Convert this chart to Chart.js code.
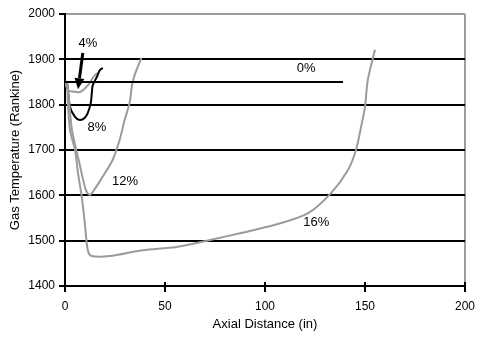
<!DOCTYPE html>
<html>
<head>
<meta charset="utf-8">
<script src="https://cdn.jsdelivr.net/npm/chart.js@4"></script>
<style>
html,body{margin:0;padding:0;background:#fff;}
#wrap{width:482px;height:342px;}
</style>
</head>
<body>
<div id="wrap"><canvas id="c" width="482" height="342"></canvas></div>
<script>
// Data (axial distance in inches, gas temperature in Rankine)
const xTicks = [0, 50, 100, 150, 200];
const yTicks = [1400, 1500, 1600, 1700, 1800, 1900, 2000];

const s0x = [0, 139];
const s0y = [1850, 1850];

const s4x = [0, 1.5, 4, 7.5, 10, 12.4, 14, 16];
const s4y = [1850, 1832, 1829, 1828, 1836, 1848, 1860, 1870];

const s8x = [0, 1, 2.5, 5, 7.4, 9.9, 11.4, 12.9, 13.4, 13.9, 15.9, 17.4, 18.9];
const s8y = [1852, 1848, 1795, 1773, 1766, 1771, 1782, 1804, 1826, 1843, 1861, 1876, 1881];

const s12x = [0, 1, 2, 3.5, 7.4, 10.4, 12.4, 15.5, 18.4, 23.8, 27.3, 29.8, 32.3, 33.7, 35.7, 38.2];
const s12y = [1852, 1848, 1810, 1744, 1667, 1612, 1601, 1618, 1638, 1678, 1722, 1766, 1804, 1848, 1876, 1903];

const s16x = [0, 1, 1.5, 2.5, 5, 6.5, 8.4, 9.9, 11.4, 13.4, 22.3, 38.7, 55.6, 72, 88, 105, 121.6, 133, 141.5, 145.5, 148, 150, 151.4, 155];
const s16y = [1845, 1840, 1799, 1744, 1700, 1649, 1596, 1539, 1479, 1466, 1466, 1479, 1486, 1501, 1517, 1535, 1561, 1605, 1656, 1700, 1750, 1795, 1854, 1921];

const labelTexts = ['0%', '4%', '8%', '12%', '16%'];
const labelX = [120.6, 11.4, 16, 30, 125.6];
const labelY = [1881, 1934, 1749, 1630, 1541];

const arrowFrom = [8.9, 1914];
const arrowTo = [6.5, 1834];

function pts(xs, ys) { return xs.map((x, i) => ({x: x, y: ys[i]})); }

const GRAY = '#9b9b9b';
const FONT = '"Liberation Sans", Arial, sans-serif';

const annotations = {
  id: 'annotations',
  afterDatasetsDraw(chart) {
    const {ctx, scales: {x, y}, chartArea} = chart;
    ctx.save();
    ctx.strokeStyle = '#000';
    ctx.lineWidth = 2;
    xTicks.forEach(v => {
      const px = x.getPixelForValue(v);
      ctx.beginPath();
      ctx.moveTo(px, chartArea.bottom);
      ctx.lineTo(px, chartArea.bottom - 4);
      ctx.stroke();
    });
    const x1 = x.getPixelForValue(arrowFrom[0]), y1 = y.getPixelForValue(arrowFrom[1]);
    const x2 = x.getPixelForValue(arrowTo[0]), y2 = y.getPixelForValue(arrowTo[1]);
    const ang = Math.atan2(y2 - y1, x2 - x1);
    const hl = 11, hw = 5;
    const bx = x2 - hl * Math.cos(ang), by = y2 - hl * Math.sin(ang);
    ctx.lineWidth = 3;
    ctx.beginPath();
    ctx.moveTo(x1, y1);
    ctx.lineTo(bx, by);
    ctx.stroke();
    ctx.fillStyle = '#000';
    ctx.beginPath();
    ctx.moveTo(x2, y2);
    ctx.lineTo(bx + hw * Math.sin(ang), by - hw * Math.cos(ang));
    ctx.lineTo(bx - hw * Math.sin(ang), by + hw * Math.cos(ang));
    ctx.closePath();
    ctx.fill();
    ctx.font = '13px ' + FONT;
    ctx.textAlign = 'center';
    ctx.textBaseline = 'middle';
    ctx.fillStyle = '#000';
    labelTexts.forEach((t, i) => {
      ctx.fillText(t, x.getPixelForValue(labelX[i]), y.getPixelForValue(labelY[i]));
    });
    ctx.restore();
  }
};

const lineBase = {fill: false, pointRadius: 0, borderWidth: 2, tension: 0.3};

new Chart(document.getElementById('c'), {
  type: 'line',
  data: {
    datasets: [
      Object.assign({label: '0%', data: pts(s0x, s0y), borderColor: '#000'}, lineBase),
      Object.assign({label: '16%', data: pts(s16x, s16y), borderColor: GRAY}, lineBase),
      Object.assign({label: '12%', data: pts(s12x, s12y), borderColor: GRAY}, lineBase),
      Object.assign({label: '8%', data: pts(s8x, s8y), borderColor: '#000'}, lineBase),
      Object.assign({label: '4%', data: pts(s4x, s4y), borderColor: GRAY}, lineBase)
    ]
  },
  options: {
    responsive: false,
    animation: false,
    devicePixelRatio: 1,
    layout: {padding: {top: 14, right: 14, left: 0, bottom: 0}},
    plugins: {legend: {display: false}, tooltip: {enabled: false}},
    scales: {
      x: {
        type: 'linear', min: 0, max: 200,
        afterBuildTicks(s) { s.ticks = xTicks.map(v => ({value: v})); },
        afterFit(s) { s.height = 56; },
        ticks: {color: '#000', padding: 7, font: {family: FONT, size: 12}, maxRotation: 0,
          callback: v => String(v)},
        grid: {
          drawOnChartArea: true,
          color: c => (c.tick && c.tick.value === 200) ? GRAY : 'rgba(0,0,0,0)',
          tickColor: '#000', lineWidth: 2, tickLength: 6
        },
        border: {color: '#000', width: 2},
        title: {display: true, text: 'Axial Distance (in)', color: '#000',
          font: {family: FONT, size: 13}, padding: {top: 4, bottom: 10}}
      },
      y: {
        type: 'linear', min: 1400, max: 2000,
        afterBuildTicks(s) { s.ticks = yTicks.map(v => ({value: v})); },
        afterFit(s) { s.width = 65; },
        ticks: {color: '#000', padding: 4, font: {family: FONT, size: 12},
          callback: v => String(v)},
        grid: {
          color: c => (c.tick && c.tick.value === 2000) ? GRAY : '#000',
          tickColor: '#000', lineWidth: 2, tickLength: 6
        },
        border: {color: '#000', width: 2},
        title: {display: true, text: 'Gas Temperature (Rankine)', color: '#000',
          font: {family: FONT, size: 13}, padding: {top: 8, bottom: 4}}
      }
    }
  },
  plugins: [annotations]
});
</script>
</body>
</html>
